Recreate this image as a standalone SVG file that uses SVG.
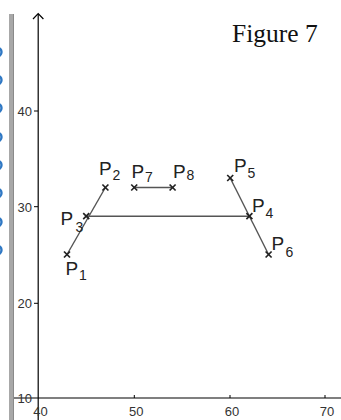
<svg xmlns="http://www.w3.org/2000/svg" width="341" height="420" viewBox="0 0 341 420">
<style>
.axis{stroke:#000;stroke-width:1.2;fill:none}
.tick{stroke:#000;stroke-width:1}
.tl{font-family:"Liberation Sans",Arial,sans-serif;font-size:13px;fill:#333}
.seg{stroke:#555;stroke-width:1.4;fill:none}
.pt{stroke:#222;stroke-width:1.7}
.lab{font-family:"Liberation Sans",Arial,sans-serif;font-size:19px;fill:#222}
.sub{font-size:14px}
.dot{fill:#dbe8f6;stroke:#2f78c4;stroke-width:2.4}
</style>
<defs>
<g id="x"><line class="pt" x1="-3" y1="-3" x2="3" y2="3"/><line class="pt" x1="-3" y1="3" x2="3" y2="-3"/></g>
</defs>
<rect width="341" height="420" fill="#fff"/>
<g id="sidebar">
<rect x="9" y="14" width="5" height="406" fill="#a8a8a8"/>
<line x1="13.5" y1="14" x2="13.5" y2="420" stroke="#8a8a8a" stroke-width="1"/>
<circle class="dot" cx="-3" cy="52" r="4.5"/>
<circle class="dot" cx="-3" cy="80" r="4.5"/>
<circle class="dot" cx="-3" cy="108" r="4.5"/>
<circle class="dot" cx="-3" cy="137" r="4.5"/>
<circle class="dot" cx="-3" cy="165" r="4.5"/>
<circle class="dot" cx="-3" cy="193" r="4.5"/>
<circle class="dot" cx="-3" cy="222" r="4.5"/>
<circle class="dot" cx="-3" cy="250" r="4.5"/>
</g>
<g id="axes">
<line class="axis" x1="38.2" y1="14" x2="38.2" y2="420"/>
<polyline class="axis" points="33,19 38.2,13.5 43.4,19"/>
<line class="axis" x1="14" y1="398" x2="341" y2="398"/>
<line class="tick" x1="34" y1="111" x2="38" y2="111"/>
<line class="tick" x1="34" y1="206.7" x2="38" y2="206.7"/>
<line class="tick" x1="34" y1="303.3" x2="38" y2="303.3"/>
<line class="tick" x1="134.3" y1="395" x2="134.3" y2="398"/>
<line class="tick" x1="230" y1="395" x2="230" y2="398"/>
<line class="tick" x1="325" y1="395" x2="325" y2="398"/>
<text class="tl" x="32" y="116" text-anchor="end">40</text>
<text class="tl" x="32" y="212" text-anchor="end">30</text>
<text class="tl" x="32" y="308" text-anchor="end">20</text>
<text class="tl" x="32" y="403" text-anchor="end">10</text>
<text class="tl" x="40.5" y="416" text-anchor="middle">40</text>
<text class="tl" x="136.3" y="416" text-anchor="middle">50</text>
<text class="tl" x="232" y="416" text-anchor="middle">60</text>
<text class="tl" x="327" y="416" text-anchor="middle">70</text>
</g>
<g id="connectors">
<line class="seg" x1="67" y1="254.5" x2="105.4" y2="187.5"/>
<line class="seg" x1="86.2" y1="216.2" x2="249.4" y2="216.2"/>
<line class="seg" x1="230.2" y1="178" x2="268.6" y2="254.5"/>
<line class="seg" x1="134.2" y1="187.5" x2="172.6" y2="187.5"/>
</g>
<g id="P1"><use href="#x" x="67" y="254.5"/><text class="lab" x="65.5" y="275">P<tspan class="sub" x="79" y="280">1</tspan></text></g>
<g id="P2"><use href="#x" x="105.4" y="187.5"/><text class="lab" x="99" y="175">P<tspan class="sub" x="112.5" y="180">2</tspan></text></g>
<g id="P3"><use href="#x" x="86.2" y="216.2"/><text class="lab" x="60.5" y="225">P<tspan class="sub" x="75.5" y="231.5">3</tspan></text></g>
<g id="P4"><use href="#x" x="249.4" y="216.2"/><text class="lab" x="252" y="211.5">P<tspan class="sub" x="265.5" y="218">4</tspan></text></g>
<g id="P5"><use href="#x" x="230.2" y="178"/><text class="lab" x="234" y="171.5">P<tspan class="sub" x="247.5" y="178">5</tspan></text></g>
<g id="P6"><use href="#x" x="268.6" y="254.5"/><text class="lab" x="271.5" y="250">P<tspan class="sub" x="285.5" y="256.5">6</tspan></text></g>
<g id="P7"><use href="#x" x="134.2" y="187.5"/><text class="lab" x="131.5" y="178">P<tspan class="sub" x="145" y="181.5">7</tspan></text></g>
<g id="P8"><use href="#x" x="172.6" y="187.5"/><text class="lab" x="173" y="178">P<tspan class="sub" x="186.5" y="180">8</tspan></text></g>
<g id="title"><text x="232" y="42" font-family="Liberation Serif,'Times New Roman',serif" font-size="25.5" fill="#111">Figure 7</text></g>
</svg>
